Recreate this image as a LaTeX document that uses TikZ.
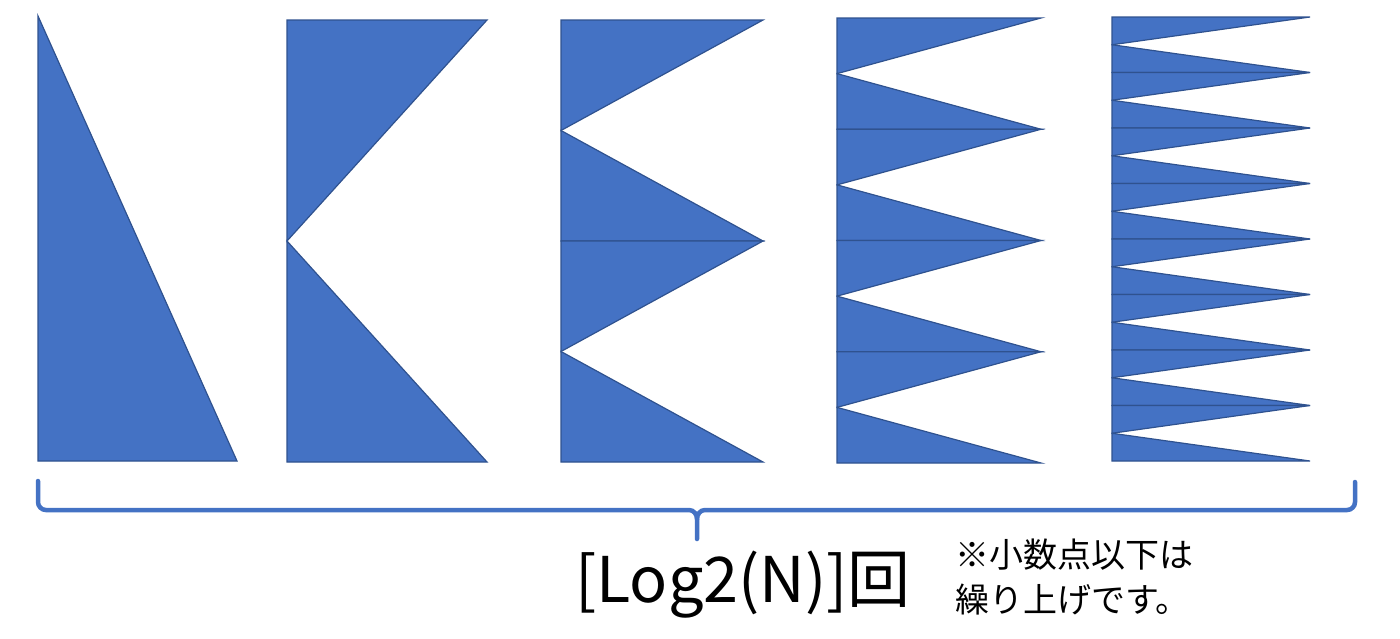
\documentclass[tikz,border=0pt]{standalone}
\usepackage{fontspec}
\setmainfont{Noto Sans CJK JP}
\usepackage{tikz}
\usetikzlibrary{positioning}
\definecolor{triblue}{RGB}{68,114,196}
\definecolor{triedge}{RGB}{47,82,143}
\tikzstyle{tri}=[%
      fill=triblue, draw=triedge, line width=1.2pt, line join=miter
]
\tikzstyle{brace}=[%
      draw=triblue, line width=4.5pt, line cap=round
]
\begin{document}
\begin{tikzpicture}[x=1pt, y=-1pt]
\useasboundingbox (0,0) rectangle (1400,638);
% first step: one triangle
\draw[tri] (38,16) -- (237,461) -- (38,461) -- cycle;
% next steps: 2, 4, 8, 16 triangles
\foreach \xl/\xr/\yt/\yb/\k in {287/487/20/462/2, 561/763/20/462/4, 837/1041/18/463/8, 1112/1310/17/461/16}{
  \pgfmathsetmacro\h{(\yb-\yt)/\k}
  \foreach \i in {1,...,\k}{
    \pgfmathsetmacro\top{\yt+(\i-1)*\h}
    \pgfmathsetmacro\bot{\yt+\i*\h}
    \ifodd\i
      \draw[tri] (\xl,\top) -- (\xr,\top) -- (\xl,\bot) -- cycle;
    \else
      \draw[tri] (\xl,\top) -- (\xr,\bot) -- (\xl,\bot) -- cycle;
    \fi
  }
}
% brace
\draw[brace] (38,481) -- (38,502) to[out=-90,in=180] (46,510) -- (689,510) to[out=0,in=90] (697,519) -- (697,539);
\draw[brace] (697,519) to[out=90,in=180] (705,510) -- (1347,510) to[out=0,in=-90] (1355,502) -- (1355,482);
\node[anchor=base, inner sep=0pt, font=\fontsize{63}{70}\selectfont](count) at (743,602){[Log2(N)]回};
\node[anchor=north west, inner sep=0pt, align=left, font=\fontsize{34}{45}\selectfont](note) at (955,539){※小数点以下は\\繰り上げです。};
\end{tikzpicture}
\end{document}
